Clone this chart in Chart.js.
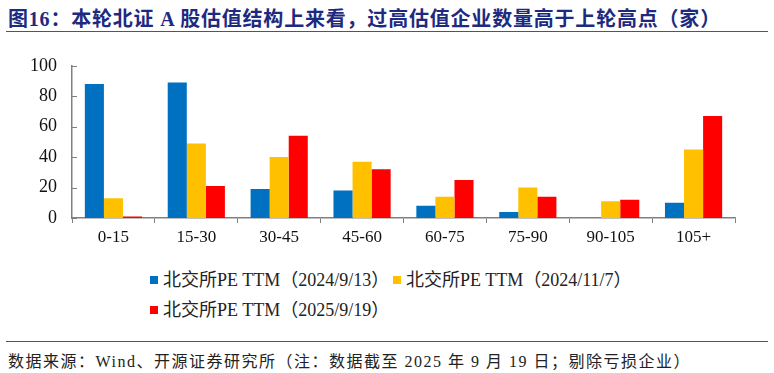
<!DOCTYPE html>
<html>
<head>
<meta charset="utf-8">
<script src="https://cdn.jsdelivr.net/npm/chart.js@4/dist/chart.umd.min.js"></script>
<style>
  html, body { margin: 0; padding: 0; background: #fff; }
  body { width: 774px; height: 373px; position: relative; overflow: hidden;
         font-family: "Liberation Serif", "Noto Sans CJK SC", serif; }
  #title { position: absolute; left: 8px; top: 3px; font-size: 20px; font-weight: bold;
           color: #1d2a7f; white-space: nowrap; letter-spacing: 0.8px; }
  #tline { position: absolute; left: 6px; right: 6px; top: 31px; height: 0; border-top: 1.5px solid #555; }
  #chartBox { position: absolute; left: 0; top: 40px; width: 774px; height: 220px; }
  .leg { position: absolute; font-size: 18px; color: #222; white-space: nowrap; line-height: 20px; }
  .leg i { display: inline-block; width: 8px; height: 8px; margin-right: 5px; vertical-align: 2px; }
  #fline { position: absolute; left: 6px; right: 6px; top: 341px; height: 0; border-top: 1.5px solid #555; }
  #foot { position: absolute; left: 8px; top: 348px; font-size: 16px; color: #222; white-space: nowrap; letter-spacing: 1.5px; }
</style>
</head>
<body>
<div id="title">图16：本轮北证 A 股估值结构上来看，过高估值企业数量高于上轮高点（家）</div>
<div id="tline"></div>
<div id="chartBox"><canvas id="c"></canvas></div>
<div id="legend"></div>
<div id="fline"></div>
<div id="foot">数据来源：Wind、开源证券研究所（注：数据截至 2025 年 9 月 19 日；剔除亏损企业）</div>
<script>
const categories = ["0-15", "15-30", "30-45", "45-60", "60-75", "75-90", "90-105", "105+"];
const seriesNames = ["北交所PE TTM（2024/9/13）", "北交所PE TTM（2024/11/7）", "北交所PE TTM（2025/9/19）"];
const values20240913 = [88, 89, 19, 18, 8, 4, 0, 10];
const values20241107 = [13, 49, 40, 37, 14, 20, 11, 45];
const values20250919 = [1, 21, 54, 32, 25, 14, 12, 67];
const colors = ["#0070C0", "#FFC000", "#FF0000"];
const yTicks = [0, 20, 40, 60, 80, 100];

const legendPos = [[150, 270], [393, 270], [150, 300]];
const legendEl = document.getElementById('legend');
seriesNames.forEach((n, i) => {
  const d = document.createElement('div');
  d.className = 'leg';
  d.style.left = legendPos[i][0] + 'px';
  d.style.top = legendPos[i][1] + 'px';
  d.innerHTML = '<i style="background:' + colors[i] + '"></i>' + n;
  legendEl.appendChild(d);
});

const axisColor = '#808080';
const innerTicks = {
  id: 'innerTicks',
  afterDraw(chart) {
    const y = chart.scales.y, ctx = chart.ctx, x0 = chart.chartArea.left;
    ctx.save();
    ctx.strokeStyle = axisColor; ctx.lineWidth = 1;
    yTicks.forEach(v => {
      const py = Math.round(y.getPixelForValue(v)) + 0.5;
      ctx.beginPath(); ctx.moveTo(x0, py); ctx.lineTo(x0 + 5, py); ctx.stroke();
    });
    ctx.restore();
  }
};

const datasets = [values20240913, values20241107, values20250919].map((d, i) => ({
  label: seriesNames[i], data: d, backgroundColor: colors[i],
  barPercentage: 1.0, categoryPercentage: 0.69
}));

new Chart(document.getElementById('c'), {
  type: 'bar',
  data: { labels: categories, datasets },
  plugins: [innerTicks],
  options: {
    responsive: true, maintainAspectRatio: false, animation: false,
    layout: { padding: { left: 0, right: 39, top: 22, bottom: 12 } },
    plugins: { legend: { display: false }, tooltip: { enabled: false } },
    scales: {
      x: {
        grid: { display: true, drawOnChartArea: false, offset: true, color: axisColor, tickLength: 5 },
        border: { display: true, color: axisColor, width: 1.5 },
        ticks: { color: '#111', font: { family: '"Liberation Serif", serif', size: 17 }, padding: 4, maxRotation: 0 },
        afterFit(s) { s.height = 30; }
      },
      y: {
        min: 0, max: 100,
        afterBuildTicks(s) { s.ticks = yTicks.map(v => ({ value: v })); },
        grid: { display: false, drawTicks: false },
        border: { display: true, color: axisColor, width: 1.5 },
        ticks: { color: '#111', font: { family: '"Liberation Serif", serif', size: 18 }, padding: 15 },
        afterFit(s) { s.width = 72; }
      }
    }
  }
});
</script>
</body>
</html>
